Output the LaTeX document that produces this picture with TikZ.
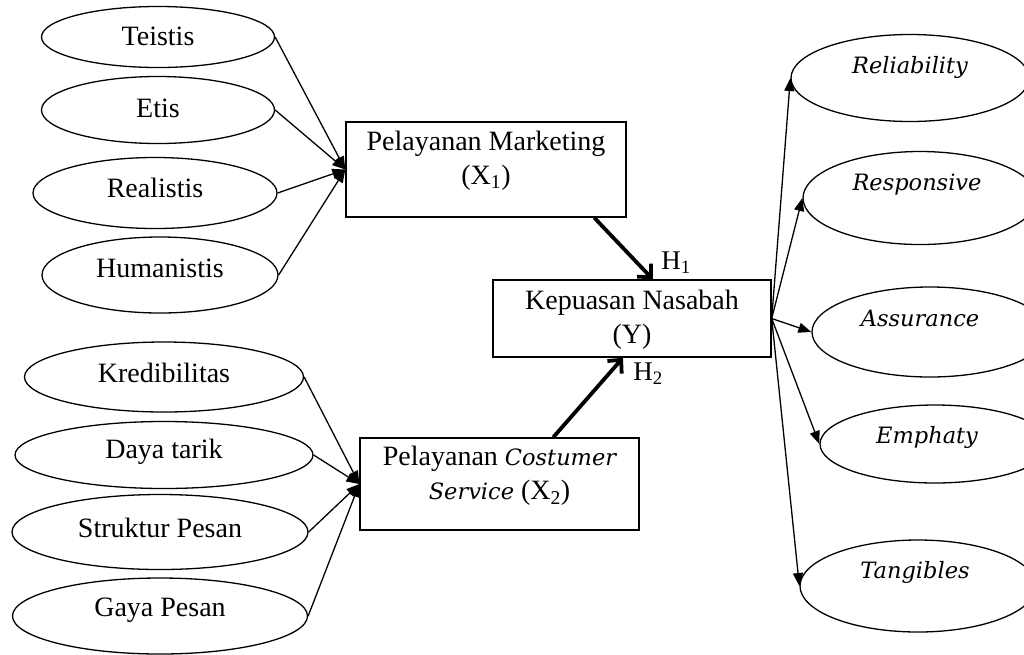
\documentclass[tikz,border=0pt]{standalone}
\usepackage{fontspec}
\setmainfont{Liberation Serif}
\newfontfamily\djv{DejaVu Serif}
\usetikzlibrary{shapes.geometric,arrows.meta}
\newcommand\myital{\djv\itshape\fontsize{22.5}{34}\selectfont}
\begin{document}
\begin{tikzpicture}[x=1pt,y=-1pt,
 ell/.style={draw,ellipse,line width=1.3pt,inner sep=0pt},
 box/.style={draw,rectangle,line width=1.4pt,inner sep=0pt},
 lbl/.style={font=\fontsize{28}{34}\selectfont,align=center,inner sep=0pt},
 rlbl/.style={font=\myital,inner sep=0pt},
 conn/.style={line width=1.3pt,-{Triangle[length=13pt,width=10pt]}},
 harr/.style={line width=3.8pt,-{Straight Barb[length=10pt,width=19pt]}},
 hlbl/.style={font=\fontsize{27}{30}\selectfont,inner sep=0pt},
]
\useasboundingbox (0,0) rectangle (1024,654);
\begin{scope}
\clip (0,0) rectangle (1024,654);
% left upper ellipses
\node[ell,minimum width=233pt,minimum height=61pt,label={[lbl,yshift=1pt]center:Teistis}] (t1) at (158,37) {};
\node[ell,minimum width=233pt,minimum height=67pt,label={[lbl,yshift=2pt]center:Etis}] (t2) at (158,110) {};
\node[ell,minimum width=244pt,minimum height=71pt,label={[lbl,yshift=5pt]center:Realistis}] (t3) at (155,193) {};
\node[ell,minimum width=236pt,minimum height=76pt,label={[lbl,yshift=7pt]center:Humanistis}] (t4) at (160,275) {};
% left lower ellipses
\node[ell,minimum width=279pt,minimum height=70pt,label={[lbl,yshift=4pt]center:Kredibilitas}] (b1) at (164,377) {};
\node[ell,minimum width=298pt,minimum height=67pt,label={[lbl,yshift=3pt]center:Daya tarik}] (b2) at (164,455) {};
\node[ell,minimum width=296pt,minimum height=75pt,label={[lbl,yshift=4pt]center:Struktur Pesan}] (b3) at (160,532) {};
\node[ell,minimum width=295pt,minimum height=76pt,label={[lbl,yshift=6pt]center:Gaya Pesan}] (b4) at (160,616) {};
% boxes
\node[box,minimum width=280pt,minimum height=95pt,label={[lbl,yshift=9pt]center:Pelayanan Marketing\\(X\textsubscript{1})}] (pm) at (486,169.5) {};
\node[box,minimum width=278pt,minimum height=77pt,label={[lbl,yshift=-1pt]center:Kepuasan Nasabah\\(Y)}] (ky) at (632,318.5) {};
\node[box,minimum width=279pt,minimum height=92pt,label={[lbl,yshift=8pt]center:Pelayanan {\myital Costumer}\\{\myital Service} (X\textsubscript{2})}] (cs) at (499.5,484) {};
% right ellipses
\node[ell,minimum width=238pt,minimum height=87pt,label={[rlbl,yshift=11pt]center:Reliability}] (r1) at (910,78) {};
\node[ell,minimum width=234pt,minimum height=93pt,label={[rlbl,yshift=13pt,xshift=-3pt]center:Responsive}] (r2) at (920,198) {};
\node[ell,minimum width=236pt,minimum height=90pt,label={[rlbl,yshift=14pt,xshift=-10pt]center:Assurance}] (r3) at (930,332) {};
\node[ell,minimum width=230pt,minimum height=78pt,label={[rlbl,yshift=7pt,xshift=-8pt]center:Emphaty}] (r4) at (935,444) {};
\node[ell,minimum width=236pt,minimum height=92pt,label={[rlbl,yshift=14pt,xshift=-3pt]center:Tangibles}] (r5) at (918,586) {};
% H labels
\node[hlbl] (h1) at (676,263) {H\textsubscript{1}};
\node[hlbl] (h2) at (648,374) {H\textsubscript{2}};
% connectors
\foreach \s in {t1,t2,t3,t4} \draw[conn] (\s.east) -- (pm.west);
\foreach \s in {b1,b2,b3,b4} \draw[conn] (\s.east) -- (cs.west);
\foreach \s in {r1,r2,r3,r4,r5} \draw[conn] (ky.east) -- (\s.west);
\draw[harr] (pm.-24.3) -- (ky.62.6);
\draw[harr] (cs.41.8) -- (ky.257.2);
\end{scope}
\end{tikzpicture}
\end{document}
